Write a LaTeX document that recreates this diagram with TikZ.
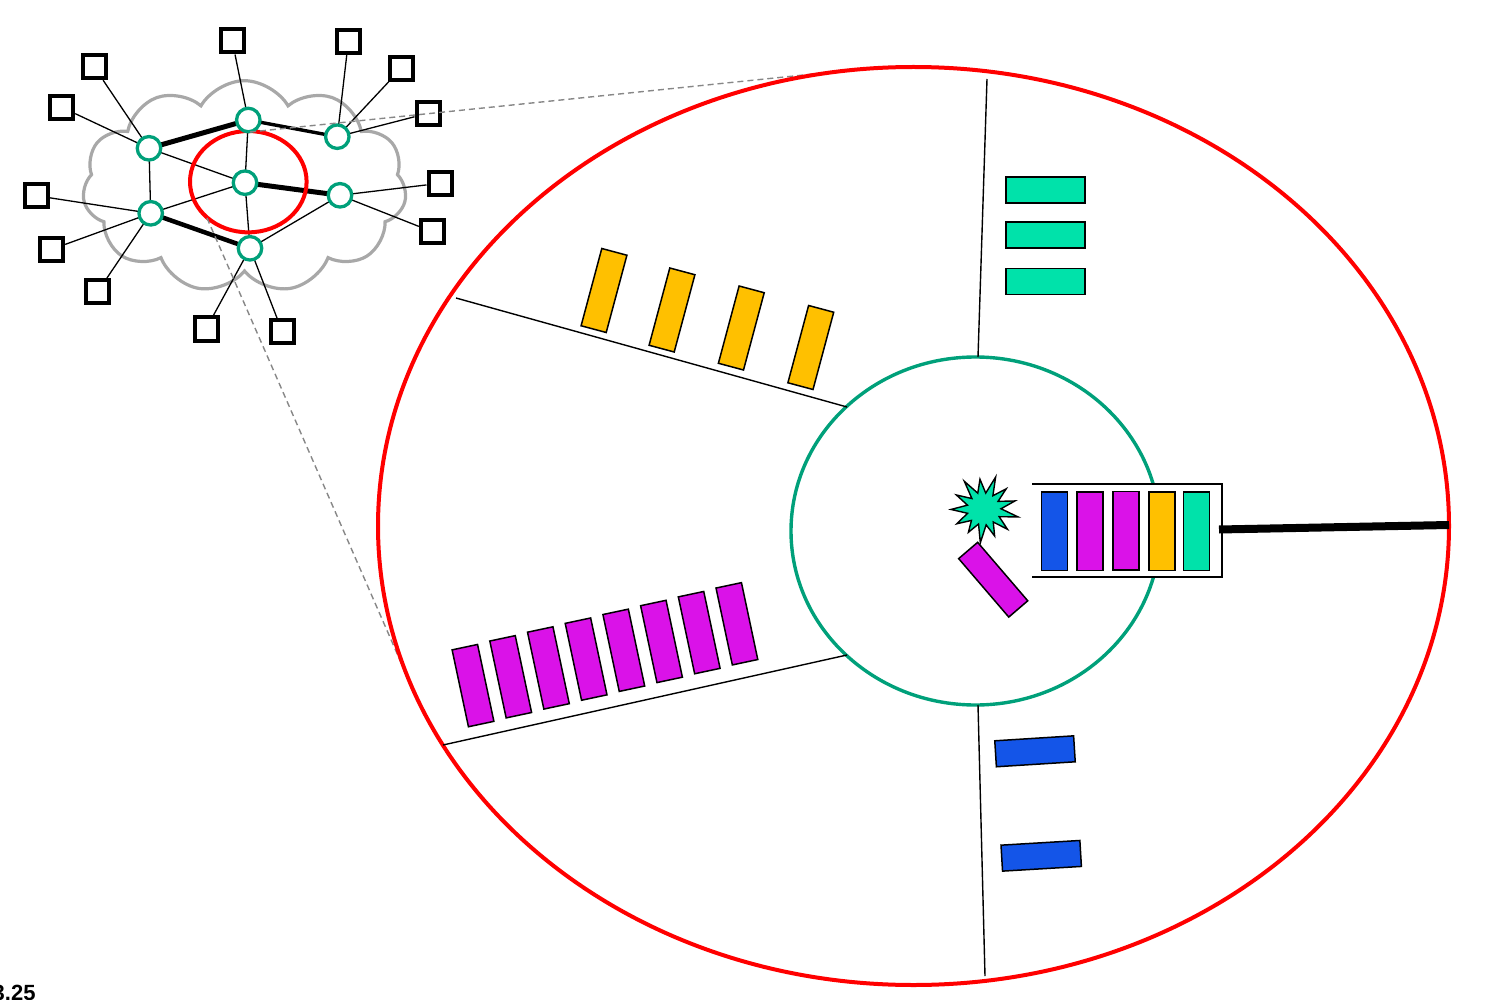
\documentclass[tikz,border=0pt]{standalone}
\usepackage{fontspec}
\setmainfont{Liberation Sans}
\usetikzlibrary{shapes.symbols,shapes.geometric}
\definecolor{netgreen}{RGB}{0,160,122}
\definecolor{bargreen}{RGB}{0,226,170}
\definecolor{baryellow}{RGB}{255,192,0}
\definecolor{barmag}{RGB}{218,18,232}
\definecolor{barblue}{RGB}{20,85,232}
\definecolor{cloudgray}{RGB}{168,168,168}
\definecolor{dashgray}{RGB}{135,135,135}
\begin{document}
\begin{tikzpicture}[x=1pt,y=-1pt,
  router/.style={circle,draw=netgreen,fill=white,line width=3.3,minimum size=23.5,inner sep=0},
  host/.style={rectangle,draw=black,fill=white,line width=4,minimum size=23,inner sep=0},
  thin/.style={line width=1.3},
  trunk/.style={line width=5},
  divider/.style={line width=1.4},
  vbar/.style={rectangle,draw=black,line width=1.5,minimum width=26,minimum height=79,inner sep=0},
  hbar/.style={rectangle,draw=black,line width=1.5,minimum width=79,minimum height=26,inner sep=0},
  zoomline/.style={draw=dashgray,line width=1.4,dash pattern=on 6pt off 4pt}
]
\useasboundingbox (0,0) rectangle (1510,1000);

% ---------- small network ----------
\node[cloud,cloud puffs=11,cloud puff arc=120,aspect=1.53,draw=cloudgray,line width=3.2,
      minimum width=324,minimum height=212,inner sep=0] (cloud) at (244.5,186.7) {};

\coordinate (A) at (248.3,120);
\coordinate (B) at (337.3,136.7);
\coordinate (C) at (149,148.3);
\coordinate (D) at (245,182.7);
\coordinate (E) at (340,195.3);
\coordinate (F) at (150.7,213.3);
\coordinate (G) at (250,248.3);

\node[host] (s1) at (232.3,41) {};
\node[host] (s2) at (348.3,41.7) {};
\node[host] (s3) at (401.3,68.3) {};
\node[host] (s4) at (428,113.3) {};
\node[host] (s5) at (94,66.7) {};
\node[host] (s6) at (61.7,107.3) {};
\node[host] (s7) at (36,195.7) {};
\node[host] (s8) at (51.7,249.3) {};
\node[host] (s9) at (97.7,291.7) {};
\node[host] (s10) at (440,183.3) {};
\node[host] (s11) at (432.3,231.7) {};
\node[host] (s12) at (206,329) {};
\node[host] (s13) at (282.3,331.7) {};

\draw[thin] (A) -- (s1);
\draw[thin] (B) -- (s2);
\draw[thin] (B) -- (s3);
\draw[thin] (B) -- (s4);
\draw[thin] (C) -- (s5);
\draw[thin] (C) -- (s6);
\draw[thin] (F) -- (s7);
\draw[thin] (F) -- (s8);
\draw[thin] (F) -- (s9);
\draw[thin] (E) -- (s10);
\draw[thin] (E) -- (s11);
\draw[thin] (G) -- (s12);
\draw[thin] (G) -- (s13);

\draw[thin] (C) -- (D);
\draw[thin] (C) -- (F);
\draw[thin] (A) -- (D);
\draw[thin] (D) -- (F);
\draw[thin] (D) -- (G);
\draw[thin] (G) -- (E);
\draw[trunk] (C) -- (A);
\draw[line width=3.4] (A) -- (B);
\draw[trunk] (D) -- (E);
\draw[line width=4.5] (F) -- (G);

\node[ellipse,draw=red,line width=4,minimum width=116.6,minimum height=101.3,inner sep=0] (zoomring) at (248.3,181.7) {};

\node[router] (rA) at (A) {};
\node[router] (rB) at (B) {};
\node[router] (rC) at (C) {};
\node[router] (rD) at (D) {};
\node[router] (rE) at (E) {};
\node[router] (rF) at (F) {};
\node[router] (rG) at (G) {};

% ---------- zoom lines ----------
\coordinate (zt) at (250,132);
\coordinate (zb) at (207,218);
\coordinate (bt) at (862,69);
\coordinate (bb) at (413,690);
\draw[zoomline] (zt) -- (bt);
\draw[zoomline] (zb) -- (bb);

% ---------- big view ----------
\node[ellipse,draw=red,line width=4,minimum width=1071,minimum height=918,inner sep=0] (big) at (913.5,526) {};
\node[ellipse,draw=netgreen,line width=3.4,minimum width=369,minimum height=348,inner sep=0] (core) at (975.5,531) {};

\coordinate (t1) at (987,79);   \coordinate (t2) at (978,357);
\coordinate (u1) at (456,298);  \coordinate (u2) at (847,407);
\coordinate (l1) at (443,745);  \coordinate (l2) at (847,655);
\coordinate (b1) at (978,705);  \coordinate (b2) at (985,976);
\draw[divider] (t1) -- (t2);
\draw[divider] (u1) -- (u2);
\draw[divider] (l1) -- (l2);
\draw[divider] (b1) -- (b2);

% yellow queue
\node[vbar,fill=baryellow,rotate=-15,minimum height=80] (y1) at (604,290.5) {};
\node[vbar,fill=baryellow,rotate=-15,minimum height=80] (y2) at (672,310) {};
\node[vbar,fill=baryellow,rotate=-15,minimum height=80] (y3) at (741.3,328) {};
\node[vbar,fill=baryellow,rotate=-15,minimum height=80] (y4) at (810.8,347.5) {};

% magenta queue
\foreach \i in {0,...,7} {
  \node[vbar,fill=barmag,rotate=12,minimum height=78.6] (m\i) at ({473+37.7*\i},{685.6-8.83*\i}) {};
}

% green queue
\node[hbar,fill=bargreen] (g1) at (1045.5,190) {};
\node[hbar,fill=bargreen] (g2) at (1045.5,235) {};
\node[hbar,fill=bargreen] (g3) at (1045.5,281.5) {};

% blue queue
\node[hbar,fill=barblue,rotate=3.6] (bl1) at (1035,751.3) {};
\node[hbar,fill=barblue,rotate=3.4] (bl2) at (1041.2,855.8) {};

% output queue
\coordinate (q1) at (1032,484);
\coordinate (q2) at (1222,484);
\coordinate (q3) at (1222,577);
\coordinate (q4) at (1032,577);
\fill[white] (q1) rectangle (q3);
\draw[line width=1.3] (q1) -- (q2) -- (q3) -- (q4);
\node[vbar,fill=barblue,minimum height=78.5] (o1) at (1054.5,531) {};
\node[vbar,fill=barmag,minimum height=78.5] (o2) at (1090.2,531) {};
\node[vbar,fill=barmag,minimum height=78.5] (o3) at (1125.8,530.5) {};
\node[vbar,fill=baryellow,minimum height=78.5] (o4) at (1161.8,531) {};
\node[vbar,fill=bargreen,minimum height=78.5] (o5) at (1196.5,531) {};

\coordinate (w1) at (1219,529.5);
\coordinate (w2) at (1449,525);
\draw[line width=8] (w1) -- (w2);

% packet being served
\node[vbar,fill=barmag,rotate=40.6,minimum width=25,minimum height=77] (pk) at (993.2,579.7) {};

% collision star
\draw[fill=bargreen,line width=1.4,line join=miter,shift={(984,509)}]
  (-70:34) -- (-56.2:16) -- (-42.3:30) -- (-28.5:16) -- (-14.6:32) -- (-0.8:17)
  -- (13.1:35) -- (26.9:17) -- (40.8:31) -- (54.6:16) -- (68.5:29) -- (82.3:16)
  -- (96.2:34) -- (110:16) -- (123.8:28) -- (137.7:17) -- (151.5:31) -- (165.4:17)
  -- (179.2:33) -- (193.1:17) -- (206.9:31) -- (220.8:16) -- (234.6:34) -- (248.5:17)
  -- (262.3:30) -- (276.2:16) -- cycle;

% label
\node[font=\bfseries\fontsize{22}{26}\selectfont,anchor=base west,inner sep=0] (lbl) at (-7.5,1000.5) {3.25};
\end{tikzpicture}
\end{document}
